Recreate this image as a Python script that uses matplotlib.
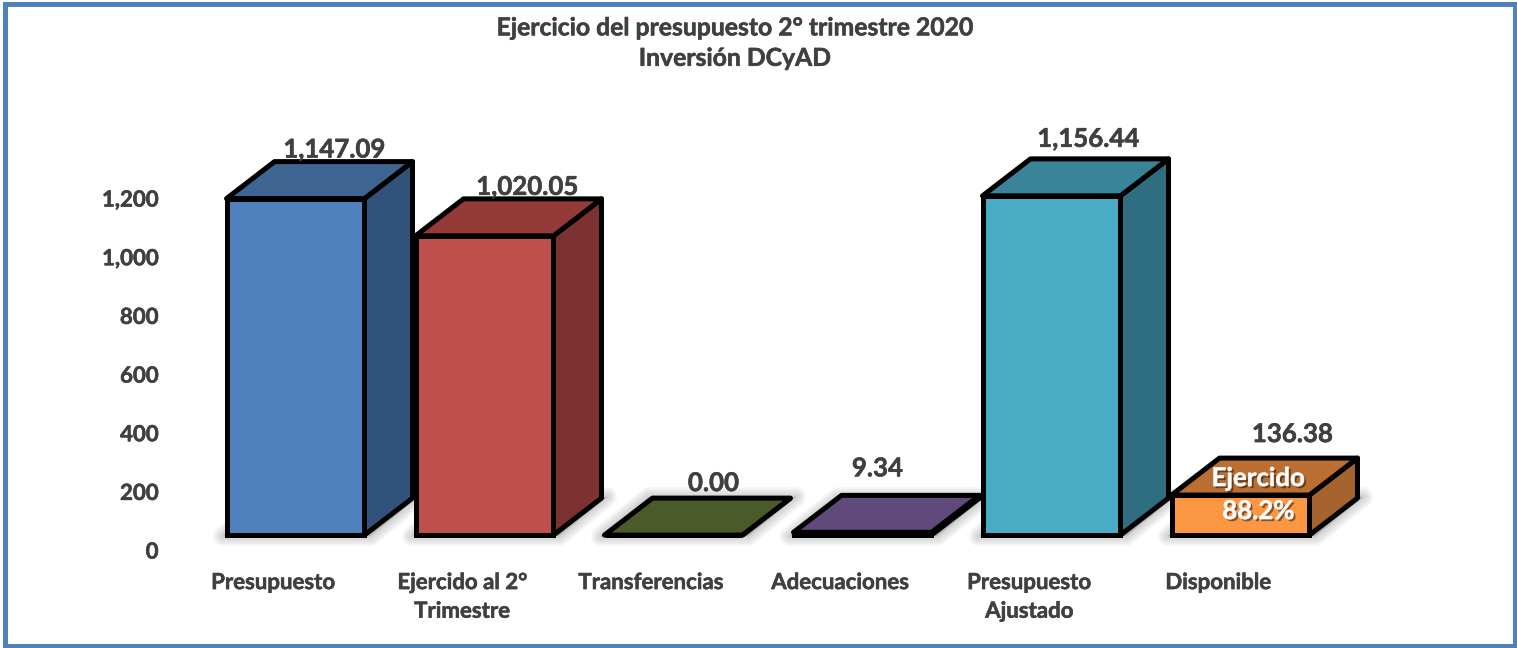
"""Ejercicio del presupuesto, 3D-look bar chart drawn on flat matplotlib axes."""

import matplotlib.pyplot as plt
import matplotlib.patheffects as pe
from matplotlib.patches import Rectangle

plt.rcParams["font.family"] = ["Lato", "DejaVu Sans"]

categories = [
    "Presupuesto",
    "Ejercido al 2°\nTrimestre",
    "Transferencias",
    "Adecuaciones",
    "Presupuesto\nAjustado",
    "Disponible",
]
values = [1147.09, 1020.05, 0.00, 9.34, 1156.44, 136.38]
value_labels = ["1,147.09", "1,020.05", "0.00", "9.34", "1,156.44", "136.38"]
y_ticks = [0, 200, 400, 600, 800, 1000, 1200]
y_tick_labels = ["0", "200", "400", "600", "800", "1,000", "1,200"]

front_colors = ["#4F81BD", "#C0504D", "#9BBB59", "#8064A2", "#4BACC6", "#FB9642"]
top_colors = ["#3E6592", "#943A38", "#4B5A29", "#604A7B", "#3A8499", "#BC6F33"]
side_colors = ["#31527A", "#7B3230", "#3F4C22", "#4E3C66", "#2E6E80", "#A5642D"]

# label offsets from the front top centre of each bar, in pixels
label_dx = [39, 43, 40, 15, 37, 52]
label_dy = [49, 49, 52, 64, 57, 61]

TEXT = "#404040"
BAR_W = 0.73
DEPTH_X = 0.254
DEPTH_Y = 126
EDGE = 3.6

# thin stroke in the text colour, Lato bold is lighter than the original font
heavy = [pe.withStroke(linewidth=0.4, foreground=TEXT)]

fig = plt.figure(figsize=(15.17, 6.48), dpi=100)
ax = fig.add_axes([0, 0, 1, 1])
ax.set_xlim(-1.5635, 6.463)
ax.set_ylim(-385, 1824)
ax.axis("off")

fig.add_artist(Rectangle((0.00297, 0.00309), 0.99571, 0.9907, transform=fig.transFigure,
                         fill=False, edgecolor="#4F81BD", linewidth=3.6))

fig.text(0.4845, 0.957, "Ejercicio del presupuesto 2° trimestre 2020", ha="center", va="center",
         fontsize=17.8, fontweight="bold", color=TEXT, path_effects=heavy)
fig.text(0.4845, 0.910, "Inversión DCyAD", ha="center", va="center",
         fontsize=17.8, fontweight="bold", color=TEXT, path_effects=heavy)

# soft floor shadow under the boxes
for i in range(len(values)):
    x0 = i - BAR_W / 2
    x1 = i + BAR_W / 2
    px = [x0 - 0.02, x1 + 0.03, x1 + DEPTH_X + 0.03, x0 + DEPTH_X - 0.02]
    py = [-4, -4, DEPTH_Y + 4, DEPTH_Y + 4]
    for lw in [14, 11, 8, 5, 2]:
        ax.fill(px, py, facecolor="#808080", edgecolor="#808080", alpha=0.08,
                linewidth=lw, joinstyle="round", zorder=1)

for i, v in enumerate(values):
    x0 = i - BAR_W / 2
    x1 = i + BAR_W / 2
    z = 2 + i
    style = dict(edgecolor="black", linewidth=EDGE, joinstyle="round", zorder=z)
    ax.fill([x1, x1 + DEPTH_X, x1 + DEPTH_X, x1], [0, DEPTH_Y, v + DEPTH_Y, v],
            facecolor=side_colors[i], **style)
    ax.fill([x0, x1, x1 + DEPTH_X, x0 + DEPTH_X], [v, v, v + DEPTH_Y, v + DEPTH_Y],
            facecolor=top_colors[i], **style)
    ax.bar(i, v, width=BAR_W, bottom=0, color=front_colors[i], edgecolor="black",
           linewidth=EDGE, zorder=z)

    ax.annotate(value_labels[i], xy=(i, v), xytext=(label_dx[i], label_dy[i]),
                textcoords="offset pixels", ha="center", va="center",
                fontsize=18.6, fontweight="bold", color=TEXT, zorder=20, path_effects=heavy)
    ax.annotate(categories[i], xy=(i, 0), xytext=(-22, -37), textcoords="offset pixels",
                ha="center", va="top", fontsize=16, fontweight="bold", color=TEXT,
                linespacing=1.45, zorder=20, path_effects=heavy)

for tick, text in zip(y_ticks, y_tick_labels):
    ax.annotate(text, xy=(-0.72, tick), xytext=(-1, -17), textcoords="offset pixels",
                ha="right", va="center", fontsize=16, fontweight="bold", color=TEXT,
                path_effects=heavy)

# data labels written on the orange box, white with a small drop shadow
drop = [pe.SimplePatchShadow(offset=(1.5, -1.5), shadow_rgbFace="black", alpha=0.45),
        pe.Stroke(linewidth=0.4, foreground="white")]
for text, dy in [("Ejercido", 17), ("88.2%", -16)]:
    ax.annotate(text, xy=(5, 136.38), xytext=(18, dy), textcoords="offset pixels",
                ha="center", va="center", fontsize=18.6, fontweight="bold", color="white",
                zorder=21, path_effects=drop)

fig.savefig("out.png", dpi=100)
